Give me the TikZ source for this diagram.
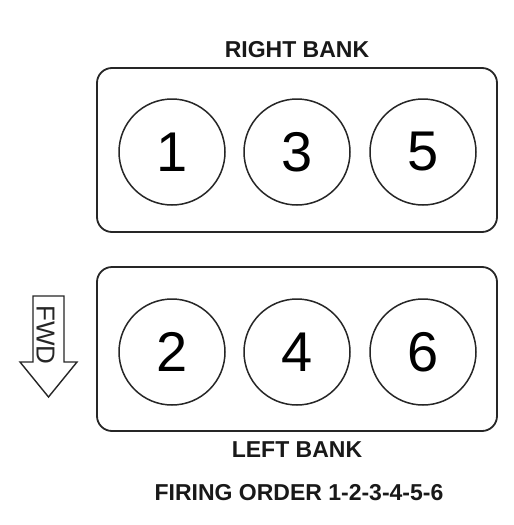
\documentclass[tikz,border=0pt]{standalone}
\usepackage{fontspec}
\setmainfont{Liberation Sans}
\begin{document}
\begin{tikzpicture}[x=1pt,y=-1pt,
  bank/.style={draw=black!85,line width=1.8pt,rounded corners=15pt},
  cyl/.style={circle,draw=black!85,line width=1.5pt,minimum size=106pt,inner sep=0pt,font=\fontsize{56}{60}\selectfont},
  lbl/.style={font=\fontsize{23}{25}\selectfont\bfseries,inner sep=0pt,text=black!90}]
\useasboundingbox (0,0) rectangle (514,525);
\fill[white] (0,0) rectangle (514,525);
% banks
\draw[bank] (97,68) rectangle (497,232);
\draw[bank] (97,267) rectangle (497,431);
% cylinders
\node[cyl] (c1) at (172,152) {1};
\node[cyl] (c3) at (297,152) {3};
\node[cyl] (c5) at (423,152) {5};
\node[cyl] (c2) at (172,352) {2};
\node[cyl] (c4) at (297,352) {4};
\node[cyl] (c6) at (423,352) {6};
% labels
\node[lbl] (rb) at (297,50) {RIGHT BANK};
\node[lbl] (lb) at (297,450) {LEFT BANK};
\node[lbl] (fo) at (299,493) {FIRING ORDER 1-2-3-4-5-6};
% FWD arrow
\draw[line width=1.4pt,black!85,line join=miter] (33,296) -- (64,296) -- (64,362) -- (77,362) -- (48.5,397) -- (20,362) -- (33,362) -- cycle;
\node[rotate=-90,font=\fontsize{26}{28}\selectfont,inner sep=0pt,text=black!85] (fwd) at (45.5,335) {FWD};
\end{tikzpicture}
\end{document}
